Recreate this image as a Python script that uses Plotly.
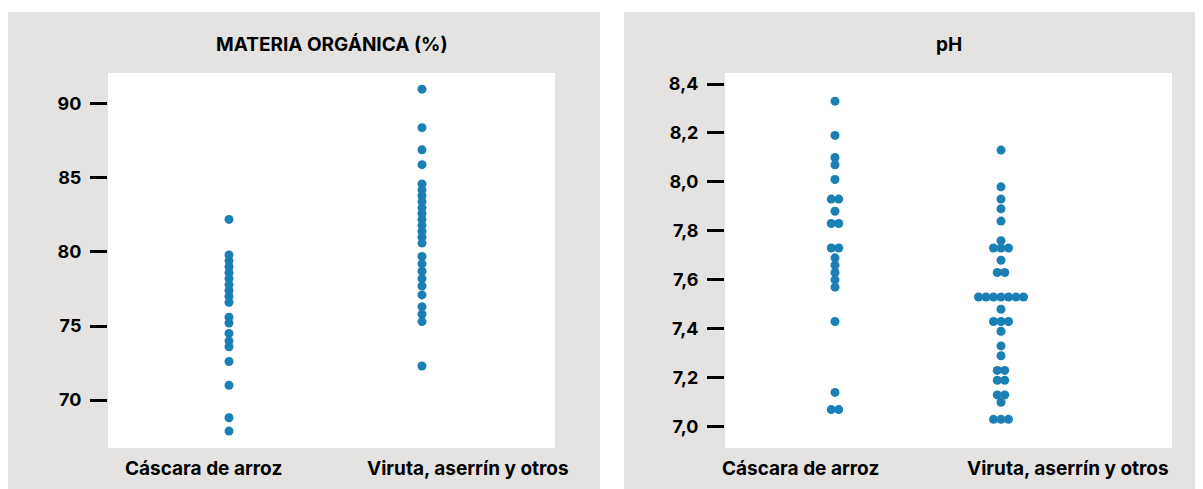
import plotly.graph_objects as go
from plotly.subplots import make_subplots
from collections import Counter

# ---------------- data ----------------
categories = ["Cáscara de arroz", "Viruta, aserrín y otros"]
titles = ["MATERIA ORGÁNICA (%)", "pH"]

mo_cascara = [82.2, 79.8, 79.4, 79.0, 78.6, 78.2, 77.8, 77.4, 77.0, 76.6,
              75.6, 75.2, 74.5, 74.0, 73.6, 72.6, 71.0, 68.8, 67.9]
mo_viruta = [91.0, 88.4, 86.9, 85.9, 84.6, 84.2, 83.8, 83.4, 83.0, 82.6,
             82.2, 81.8, 81.4, 81.0, 80.6, 79.7, 79.2, 78.7, 78.2, 77.7,
             77.1, 76.3, 75.8, 75.3, 72.3]
ph_cascara = [8.33, 8.19, 8.10, 8.07, 8.01, 7.93, 7.93, 7.88, 7.83, 7.83,
              7.73, 7.73, 7.69, 7.66, 7.63, 7.60, 7.57, 7.43, 7.14, 7.07, 7.07]
ph_viruta = [8.13, 7.98, 7.93, 7.89, 7.84, 7.76, 7.73, 7.73, 7.73, 7.68,
             7.63, 7.63, 7.53, 7.53, 7.53, 7.53, 7.53, 7.53, 7.53, 7.48,
             7.43, 7.43, 7.43, 7.39, 7.33, 7.29, 7.23, 7.23, 7.19, 7.19,
             7.13, 7.13, 7.10, 7.03, 7.03, 7.03]

mo_ticks = [70, 75, 80, 85, 90]
ph_ticks = [7.0, 7.2, 7.4, 7.6, 7.8, 8.0, 8.2, 8.4]

# ---------------- layout constants (page pixels) ----------------
PAGE_OFF = 8                 # default body margin of the html page
W, H = 1203 - PAGE_OFF, 489 - PAGE_OFF
BLUE = "#1a7fb5"
GRAY = "#e4e3e1"
FONT = "Inter"
DOT_SPACING_PX = 7.5


def fx(px):
    return (px - PAGE_OFF) / W


def fy(py):
    return 1 - (py - PAGE_OFF) / H


panels = [
    dict(x0=108, x1=555, dot_px=(229, 422), yrange=(66.76, 92.09),
         ticks=mo_ticks, fmt="d", label_px=(203, 468),
         cols=[mo_cascara, mo_viruta], bg=(8, 600)),
    dict(x0=725, x1=1172, dot_px=(835, 1001), yrange=(6.913, 8.445),
         ticks=ph_ticks, fmt=".1f", label_px=(800, 1068),
         cols=[ph_cascara, ph_viruta], bg=(624, 1203)),
]
Y_TOP, Y_BOT = 73, 448

fig = make_subplots(rows=1, cols=2)
shapes = []
annotations = []

for k, p in enumerate(panels, start=1):
    ppu = (p["dot_px"][1] - p["dot_px"][0])  # pixels per x unit
    xr = (-(p["dot_px"][0] - p["x0"]) / ppu, 1 + (p["x1"] - p["dot_px"][1]) / ppu)
    for ci, vals in enumerate(p["cols"]):
        counts = Counter(vals)
        seen = Counter()
        xs, ys = [], []
        for v in vals:
            n = counts[v]
            i = seen[v]
            seen[v] += 1
            off = (i - (n - 1) / 2) * DOT_SPACING_PX / ppu
            xs.append(ci + off)
            ys.append(v)
        fig.add_trace(go.Scatter(x=xs, y=ys, mode="markers",
                                 marker=dict(color=BLUE, size=9, line=dict(width=0)),
                                 showlegend=False, hoverinfo="y"), row=1, col=k)
    xa = "xaxis" if k == 1 else f"xaxis{k}"
    ya = "yaxis" if k == 1 else f"yaxis{k}"
    fig.layout[xa].update(domain=[fx(p["x0"]), fx(p["x1"])], range=list(xr),
                          showgrid=False, zeroline=False, showticklabels=False,
                          showline=False, fixedrange=True)
    fig.layout[ya].update(domain=[fy(Y_BOT), fy(Y_TOP)],
                          range=list(p["yrange"]), tickvals=p["ticks"],
                          tickformat=p["fmt"], showgrid=False, zeroline=False,
                          showline=False, ticks="outside", ticklen=17,
                          tickwidth=3, tickcolor="black",
                          ticklabelstandoff=5,
                          tickfont=dict(family=FONT, size=18, color="black",
                                        weight=700))
    # gray panel
    shapes.append(dict(type="rect", xref="paper", yref="paper", layer="below",
                       x0=fx(p["bg"][0]), x1=fx(p["bg"][1]), y0=0, y1=fy(12),
                       fillcolor=GRAY, line=dict(width=0)))
    # white plot area
    shapes.append(dict(type="rect", xref="paper", yref="paper", layer="below",
                       x0=fx(p["x0"]), x1=fx(p["x1"]),
                       y0=fy(Y_BOT), y1=fy(Y_TOP),
                       fillcolor="white", line=dict(width=0)))
    # title
    annotations.append(dict(text=titles[k - 1], xref="paper", yref="paper",
                            x=fx((p["x0"] + p["x1"]) / 2), y=fy(45),
                            showarrow=False, xanchor="center", yanchor="middle",
                            font=dict(family=FONT, size=19, color="black", weight=700)))
    # category labels
    for ci, cat in enumerate(categories):
        annotations.append(dict(text=cat, xref="paper", yref="paper",
                                x=fx(p["label_px"][ci]), y=fy(468),
                                showarrow=False, xanchor="center", yanchor="middle",
                                font=dict(family=FONT, size=19, color="black", weight=700)))

fig.update_layout(width=W, height=H, margin=dict(l=0, r=0, t=0, b=0),
                  paper_bgcolor="white", plot_bgcolor="rgba(0,0,0,0)",
                  separators=",.", shapes=shapes, annotations=annotations,
                  showlegend=False)

fig.write_html("out.html")
